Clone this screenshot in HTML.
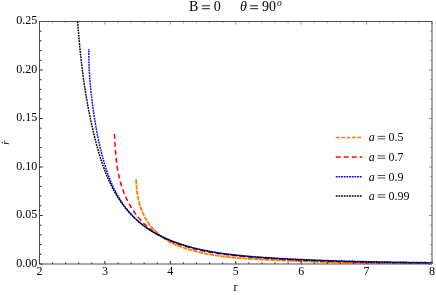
<!DOCTYPE html>
<html><head><meta charset="utf-8"><style>
html,body{margin:0;padding:0;background:#fff;}
svg{display:block;will-change:transform;}
text{font-family:"Liberation Serif",serif;font-size:12px;fill:#000;}
.tk{stroke:#222;stroke-width:1;}
.tk2{stroke:#999;stroke-width:1;}
.ax{stroke:#4a4a4a;stroke-width:1;fill:none;}
.c{fill:none;stroke-width:1.5;}
.i{font-style:italic;}
.t{font-size:14px;}
</style></head><body>
<svg width="436" height="295" viewBox="0 0 436 295">
<rect width="436" height="295" fill="#fff"/>
<defs><clipPath id="cp"><rect x="39.5" y="21.5" width="392.5" height="242.5"/></clipPath></defs>
<g clip-path="url(#cp)">
<path class="c" style="stroke-width:1.8" stroke="#ff8000" stroke-dasharray="4.7 0.85" d="M136.16 179.23 L136.17 180.21 L136.20 181.20 L136.23 182.19 L136.27 183.18 L136.32 184.17 L136.38 185.17 L136.45 186.16 L136.53 187.16 L136.63 188.16 L136.73 189.15 L136.84 190.15 L136.96 191.14 L137.09 192.14 L137.23 193.13 L137.38 194.12 L137.55 195.11 L137.72 196.10 L137.91 197.09 L138.11 198.08 L138.32 199.06 L138.54 200.04 L138.77 201.01 L139.02 201.99 L139.27 202.95 L139.54 203.92 L139.83 204.88 L140.12 205.84 L140.43 206.79 L140.75 207.74 L141.08 208.68 L141.43 209.61 L141.79 210.54 L142.16 211.47 L142.55 212.39 L142.95 213.30 L143.36 214.20 L143.79 215.10 L144.24 215.99 L144.69 216.87 L145.17 217.75 L145.65 218.61 L146.16 219.47 L146.67 220.32 L147.20 221.16 L147.75 221.99 L148.31 222.82 L148.89 223.63 L149.48 224.43 L150.08 225.23 L150.70 226.01 L151.33 226.78 L151.97 227.55 L152.63 228.30 L153.30 229.04 L153.98 229.77 L154.67 230.49 L155.38 231.20 L156.09 231.90 L156.82 232.59 L157.56 233.26 L158.31 233.93 L159.07 234.58 L159.84 235.22 L160.62 235.84 L161.41 236.46 L162.21 237.06 L163.02 237.65 L163.84 238.22 L164.67 238.79 L165.51 239.34 L166.35 239.87 L167.21 240.39 L168.07 240.90 L168.94 241.40 L169.81 241.88 L170.70 242.35 L171.59 242.80 L172.48 243.25 L173.39 243.68 L174.30 244.10 L175.21 244.51 L176.13 244.91 L177.05 245.30 L177.98 245.67 L178.91 246.04 L179.85 246.40 L180.79 246.75 L181.73 247.10 L182.68 247.43 L183.63 247.76 L184.58 248.08 L185.54 248.39 L186.49 248.70 L187.45 249.00 L188.41 249.29 L189.36 249.58 L190.32 249.86 L191.29 250.14 L192.25 250.41 L193.21 250.67 L194.18 250.93 L195.14 251.19 L196.11 251.43 L197.08 251.68 L198.05 251.92 L199.02 252.15 L199.99 252.38 L200.96 252.60 L201.93 252.82 L202.90 253.03 L203.88 253.24 L204.85 253.44 L205.83 253.64 L206.81 253.84 L207.78 254.03 L208.76 254.21 L209.74 254.39 L210.72 254.57 L211.70 254.74 L212.68 254.91 L213.67 255.08 L214.65 255.24 L215.63 255.39 L216.62 255.54 L217.61 255.69 L218.59 255.84 L219.58 255.98 L220.57 256.12 L221.55 256.25 L222.54 256.38 L223.53 256.51 L224.52 256.63 L225.51 256.75 L226.50 256.87 L227.49 256.98 L228.49 257.09 L229.48 257.20 L230.47 257.31 L231.47 257.41 L232.46 257.51 L233.45 257.60 L234.45 257.70 L235.45 257.79 L236.44 257.88 L237.44 257.97 L238.43 258.05 L239.43 258.13 L240.43 258.21 L241.43 258.29 L242.42 258.36 L243.42 258.44 L244.42 258.51 L245.42 258.58 L246.42 258.65 L247.42 258.71 L248.42 258.78 L249.42 258.84 L250.42 258.90 L251.42 258.96 L252.42 259.02 L253.42 259.08 L254.42 259.13 L255.42 259.19 L256.42 259.24 L257.42 259.29 L258.42 259.34 L259.43 259.39 L260.43 259.44 L261.43 259.49 L262.43 259.54 L263.43 259.59 L264.43 259.64 L265.43 259.68 L266.44 259.73 L267.44 259.77 L268.44 259.82 L269.44 259.86 L270.44 259.91 L271.44 259.95 L272.44 260.00 L273.44 260.04 L274.44 260.09 L275.44 260.13 L276.45 260.18 L277.45 260.22 L278.45 260.26 L279.45 260.31 L280.45 260.35 L281.45 260.39 L282.45 260.43 L283.45 260.48 L284.45 260.52 L285.45 260.56 L286.45 260.60 L287.45 260.64 L288.45 260.68 L289.45 260.72 L290.45 260.76 L291.45 260.80 L292.45 260.84 L293.45 260.88 L294.45 260.92 L295.45 260.96 L296.45 261.00 L297.45 261.04 L298.45 261.08 L299.45 261.12 L300.44 261.15 L301.44 261.19 L302.44 261.23 L303.44 261.27 L304.44 261.30 L305.44 261.34 L306.44 261.38 L307.44 261.41 L308.44 261.45 L309.44 261.48 L310.44 261.52 L311.44 261.55 L312.43 261.59 L313.43 261.62 L314.43 261.66 L315.43 261.69 L316.43 261.73 L317.43 261.76 L318.43 261.79 L319.43 261.83 L320.43 261.86 L321.42 261.89 L322.42 261.92 L323.42 261.95 L324.42 261.99 L325.42 262.02 L326.42 262.05 L327.42 262.08 L328.42 262.11 L329.41 262.14 L330.41 262.17 L331.41 262.20 L332.41 262.23 L333.41 262.26 L334.41 262.28 L335.41 262.31 L336.40 262.34 L337.40 262.37 L338.40 262.40 L339.40 262.42 L340.40 262.45 L341.40 262.48 L342.40 262.50 L343.39 262.53 L344.39 262.55 L345.39 262.58 L346.39 262.60 L347.39 262.63 L348.39 262.65 L349.39 262.68 L350.39 262.70 L351.38 262.72 L352.38 262.75 L353.38 262.77 L354.38 262.79 L355.38 262.81 L356.38 262.84 L357.38 262.86 L358.38 262.88 L359.37 262.90 L360.37 262.92 L361.37 262.94 L362.37 262.96 L363.37 262.98 L364.37 263.00 L365.37 263.02 L366.37 263.04 L367.37 263.05 L368.37 263.07 L369.37 263.09 L370.36 263.11 L371.36 263.12 L372.36 263.14 L373.36 263.15 L374.36 263.17 L375.36 263.19 L376.36 263.20 L377.36 263.22 L378.36 263.23 L379.36 263.24 L380.36 263.26 L381.36 263.27 L382.36 263.28 L383.36 263.30 L384.36 263.31 L385.36 263.32 L386.36 263.33 L387.36 263.34 L388.36 263.35 L389.36 263.36 L390.36 263.37 L391.36 263.38 L392.36 263.39 L393.36 263.40 L394.36 263.41 L395.36 263.42 L396.36 263.43 L397.36 263.43 L398.36 263.44 L399.36 263.45 L400.36 263.45 L401.36 263.46 L402.36 263.46 L403.37 263.47 L404.37 263.47 L405.37 263.48 L406.37 263.48 L407.37 263.49 L408.37 263.49 L409.37 263.49 L410.38 263.49 L411.38 263.50 L412.38 263.50 L413.38 263.50 L414.38 263.50 L415.38 263.50 L416.39 263.50 L417.39 263.50 L418.39 263.50 L419.39 263.50 L420.40 263.50 L421.40 263.50 L422.40 263.49 L423.40 263.49 L424.41 263.49 L425.41 263.48 L426.41 263.48 L427.41 263.48 L428.42 263.47 L429.42 263.47 L430.42 263.46 L431.38 263.45"/>
<path class="c" stroke="#ff0000" stroke-dasharray="4.8 3.2" d="M114.43 134.03 L114.49 135.02 L114.54 136.01 L114.59 137.01 L114.65 138.00 L114.70 139.00 L114.76 139.99 L114.81 140.99 L114.87 141.98 L114.93 142.98 L114.98 143.98 L115.05 144.97 L115.11 145.97 L115.17 146.97 L115.24 147.97 L115.31 148.96 L115.38 149.96 L115.45 150.96 L115.53 151.95 L115.61 152.95 L115.69 153.95 L115.78 154.94 L115.87 155.94 L115.97 156.94 L116.07 157.93 L116.17 158.92 L116.28 159.92 L116.39 160.91 L116.51 161.90 L116.63 162.90 L116.76 163.89 L116.89 164.88 L117.03 165.87 L117.18 166.85 L117.33 167.84 L117.49 168.83 L117.66 169.81 L117.83 170.80 L118.01 171.78 L118.19 172.76 L118.39 173.74 L118.59 174.72 L118.80 175.69 L119.01 176.67 L119.24 177.64 L119.47 178.62 L119.72 179.59 L119.97 180.55 L120.23 181.52 L120.50 182.49 L120.78 183.45 L121.07 184.41 L121.36 185.37 L121.67 186.32 L121.99 187.28 L122.31 188.23 L122.64 189.17 L122.99 190.12 L123.34 191.06 L123.70 192.00 L124.07 192.93 L124.45 193.86 L124.84 194.79 L125.23 195.71 L125.64 196.63 L126.06 197.55 L126.48 198.46 L126.91 199.36 L127.36 200.26 L127.81 201.16 L128.27 202.05 L128.74 202.93 L129.22 203.81 L129.70 204.69 L130.20 205.56 L130.71 206.42 L131.22 207.28 L131.74 208.13 L132.28 208.98 L132.82 209.82 L133.37 210.65 L133.93 211.48 L134.50 212.30 L135.07 213.11 L135.66 213.92 L136.26 214.71 L136.86 215.51 L137.47 216.29 L138.09 217.07 L138.73 217.83 L139.37 218.59 L140.01 219.35 L140.67 220.09 L141.34 220.83 L142.01 221.55 L142.70 222.27 L143.39 222.98 L144.09 223.68 L144.80 224.37 L145.52 225.06 L146.25 225.73 L146.99 226.39 L147.73 227.05 L148.49 227.69 L149.25 228.33 L150.03 228.95 L150.81 229.56 L151.60 230.17 L152.39 230.76 L153.20 231.35 L154.01 231.92 L154.83 232.48 L155.66 233.04 L156.50 233.58 L157.34 234.12 L158.19 234.65 L159.04 235.16 L159.90 235.67 L160.77 236.17 L161.64 236.65 L162.52 237.13 L163.40 237.60 L164.29 238.06 L165.19 238.51 L166.08 238.96 L166.99 239.39 L167.89 239.82 L168.81 240.23 L169.72 240.64 L170.64 241.04 L171.56 241.44 L172.49 241.83 L173.42 242.20 L174.35 242.58 L175.28 242.94 L176.22 243.30 L177.16 243.65 L178.10 244.00 L179.05 244.33 L179.99 244.67 L180.94 244.99 L181.89 245.31 L182.85 245.62 L183.80 245.93 L184.76 246.23 L185.72 246.53 L186.68 246.81 L187.64 247.10 L188.61 247.37 L189.57 247.65 L190.54 247.91 L191.51 248.17 L192.48 248.43 L193.45 248.68 L194.42 248.93 L195.39 249.17 L196.36 249.40 L197.34 249.63 L198.31 249.86 L199.29 250.08 L200.27 250.30 L201.24 250.51 L202.22 250.72 L203.20 250.92 L204.18 251.12 L205.16 251.31 L206.14 251.51 L207.12 251.69 L208.11 251.88 L209.09 252.06 L210.07 252.23 L211.06 252.40 L212.04 252.57 L213.03 252.73 L214.01 252.90 L215.00 253.05 L215.99 253.21 L216.97 253.36 L217.96 253.51 L218.95 253.65 L219.94 253.79 L220.93 253.93 L221.92 254.07 L222.91 254.20 L223.90 254.33 L224.89 254.46 L225.88 254.59 L226.87 254.71 L227.86 254.83 L228.86 254.95 L229.85 255.06 L230.84 255.18 L231.83 255.29 L232.83 255.40 L233.82 255.51 L234.82 255.62 L235.81 255.72 L236.80 255.82 L237.80 255.92 L238.79 256.02 L239.79 256.12 L240.78 256.22 L241.78 256.31 L242.77 256.41 L243.77 256.50 L244.76 256.60 L245.76 256.69 L246.76 256.78 L247.75 256.87 L248.75 256.95 L249.74 257.04 L250.74 257.13 L251.73 257.21 L252.73 257.30 L253.73 257.38 L254.72 257.46 L255.72 257.55 L256.72 257.63 L257.71 257.71 L258.71 257.78 L259.71 257.86 L260.70 257.94 L261.70 258.01 L262.70 258.09 L263.69 258.16 L264.69 258.24 L265.69 258.31 L266.68 258.38 L267.68 258.45 L268.68 258.52 L269.68 258.59 L270.67 258.66 L271.67 258.73 L272.67 258.79 L273.67 258.86 L274.66 258.92 L275.66 258.99 L276.66 259.05 L277.66 259.11 L278.65 259.17 L279.65 259.23 L280.65 259.29 L281.65 259.35 L282.65 259.41 L283.64 259.47 L284.64 259.53 L285.64 259.58 L286.64 259.64 L287.64 259.69 L288.64 259.75 L289.63 259.80 L290.63 259.85 L291.63 259.90 L292.63 259.95 L293.63 260.00 L294.63 260.05 L295.63 260.10 L296.62 260.15 L297.62 260.20 L298.62 260.25 L299.62 260.29 L300.62 260.34 L301.62 260.38 L302.62 260.43 L303.62 260.47 L304.62 260.52 L305.61 260.56 L306.61 260.60 L307.61 260.64 L308.61 260.68 L309.61 260.72 L310.61 260.76 L311.61 260.80 L312.61 260.84 L313.61 260.88 L314.61 260.92 L315.61 260.95 L316.61 260.99 L317.61 261.02 L318.61 261.06 L319.61 261.09 L320.61 261.13 L321.61 261.16 L322.61 261.20 L323.60 261.23 L324.60 261.26 L325.60 261.29 L326.60 261.32 L327.60 261.35 L328.60 261.39 L329.60 261.42 L330.60 261.44 L331.60 261.47 L332.60 261.50 L333.60 261.53 L334.60 261.56 L335.60 261.59 L336.60 261.61 L337.60 261.64 L338.60 261.67 L339.60 261.69 L340.60 261.72 L341.60 261.74 L342.60 261.77 L343.60 261.79 L344.60 261.82 L345.60 261.84 L346.60 261.86 L347.60 261.89 L348.60 261.91 L349.60 261.93 L350.60 261.95 L351.60 261.98 L352.60 262.00 L353.60 262.02 L354.60 262.04 L355.60 262.06 L356.60 262.08 L357.60 262.10 L358.61 262.12 L359.61 262.14 L360.61 262.16 L361.61 262.18 L362.61 262.20 L363.61 262.22 L364.61 262.24 L365.61 262.26 L366.61 262.27 L367.61 262.29 L368.61 262.31 L369.61 262.33 L370.61 262.35 L371.61 262.36 L372.61 262.38 L373.61 262.40 L374.61 262.41 L375.61 262.43 L376.61 262.45 L377.61 262.46 L378.61 262.48 L379.61 262.50 L380.61 262.51 L381.61 262.53 L382.61 262.55 L383.61 262.56 L384.61 262.58 L385.61 262.59 L386.61 262.61 L387.61 262.63 L388.61 262.64 L389.61 262.66 L390.61 262.67 L391.61 262.69 L392.61 262.70 L393.61 262.72 L394.60 262.74 L395.60 262.75 L396.60 262.77 L397.60 262.78 L398.60 262.80 L399.60 262.81 L400.60 262.83 L401.60 262.85 L402.60 262.86 L403.60 262.88 L404.60 262.89 L405.60 262.91 L406.60 262.92 L407.60 262.94 L408.60 262.96 L409.60 262.97 L410.60 262.99 L411.60 263.01 L412.59 263.02 L413.59 263.04 L414.59 263.06 L415.59 263.07 L416.59 263.09 L417.59 263.11 L418.59 263.13 L419.59 263.14 L420.59 263.16 L421.58 263.18 L422.58 263.20 L423.58 263.22 L424.58 263.24 L425.58 263.26 L426.58 263.27 L427.58 263.29 L428.57 263.31 L429.57 263.33 L430.57 263.35 L431.57 263.37 L431.91 263.38"/>
<path class="c" stroke="#0000ff" stroke-dasharray="1.8 0.9" stroke-dashoffset="1.16" d="M88.87 49.08 L88.86 50.08 L88.85 51.09 L88.84 52.09 L88.83 53.09 L88.83 54.10 L88.84 55.10 L88.84 56.10 L88.85 57.11 L88.86 58.11 L88.88 59.11 L88.90 60.11 L88.92 61.11 L88.95 62.12 L88.98 63.12 L89.01 64.12 L89.04 65.12 L89.08 66.12 L89.12 67.12 L89.17 68.11 L89.21 69.11 L89.26 70.11 L89.32 71.11 L89.37 72.11 L89.43 73.11 L89.49 74.10 L89.56 75.10 L89.62 76.10 L89.69 77.09 L89.77 78.09 L89.84 79.09 L89.92 80.08 L90.00 81.08 L90.08 82.07 L90.17 83.07 L90.25 84.06 L90.34 85.06 L90.43 86.05 L90.53 87.05 L90.63 88.04 L90.72 89.04 L90.83 90.03 L90.93 91.02 L91.03 92.02 L91.14 93.01 L91.25 94.00 L91.36 94.99 L91.48 95.99 L91.59 96.98 L91.71 97.97 L91.83 98.96 L91.95 99.95 L92.07 100.95 L92.20 101.94 L92.32 102.93 L92.45 103.92 L92.58 104.91 L92.71 105.90 L92.85 106.89 L92.98 107.88 L93.12 108.87 L93.26 109.86 L93.39 110.85 L93.54 111.84 L93.68 112.83 L93.82 113.82 L93.97 114.81 L94.12 115.80 L94.27 116.78 L94.42 117.77 L94.58 118.76 L94.73 119.75 L94.89 120.73 L95.05 121.72 L95.21 122.71 L95.38 123.69 L95.55 124.68 L95.72 125.66 L95.89 126.65 L96.06 127.63 L96.24 128.62 L96.42 129.60 L96.60 130.58 L96.78 131.57 L96.97 132.55 L97.16 133.53 L97.35 134.51 L97.54 135.49 L97.74 136.47 L97.94 137.45 L98.14 138.43 L98.35 139.41 L98.55 140.39 L98.76 141.37 L98.98 142.34 L99.19 143.32 L99.41 144.29 L99.64 145.27 L99.86 146.24 L100.09 147.22 L100.32 148.19 L100.56 149.16 L100.80 150.14 L101.04 151.11 L101.28 152.08 L101.53 153.05 L101.78 154.02 L102.04 154.99 L102.30 155.95 L102.56 156.92 L102.82 157.89 L103.09 158.85 L103.36 159.82 L103.64 160.78 L103.92 161.74 L104.20 162.70 L104.49 163.66 L104.78 164.63 L105.08 165.58 L105.38 166.54 L105.68 167.50 L105.99 168.46 L106.30 169.41 L106.62 170.36 L106.94 171.32 L107.27 172.27 L107.60 173.21 L107.93 174.16 L108.27 175.10 L108.62 176.05 L108.97 176.99 L109.33 177.92 L109.70 178.86 L110.07 179.79 L110.44 180.72 L110.82 181.65 L111.21 182.57 L111.61 183.50 L112.01 184.41 L112.42 185.33 L112.83 186.24 L113.25 187.15 L113.68 188.05 L114.12 188.96 L114.56 189.85 L115.01 190.75 L115.47 191.64 L115.94 192.52 L116.41 193.41 L116.90 194.28 L117.39 195.16 L117.89 196.02 L118.39 196.89 L118.91 197.75 L119.43 198.60 L119.96 199.45 L120.50 200.30 L121.04 201.14 L121.60 201.97 L122.16 202.80 L122.73 203.62 L123.30 204.44 L123.89 205.25 L124.48 206.06 L125.08 206.86 L125.68 207.65 L126.30 208.44 L126.92 209.22 L127.54 209.99 L128.18 210.76 L128.82 211.52 L129.47 212.28 L130.13 213.03 L130.80 213.77 L131.47 214.50 L132.15 215.23 L132.83 215.95 L133.52 216.66 L134.22 217.36 L134.93 218.06 L135.64 218.75 L136.36 219.43 L137.09 220.10 L137.82 220.76 L138.56 221.42 L139.31 222.07 L140.07 222.71 L140.83 223.34 L141.59 223.96 L142.37 224.57 L143.15 225.18 L143.93 225.78 L144.72 226.37 L145.52 226.95 L146.33 227.52 L147.13 228.09 L147.95 228.64 L148.77 229.19 L149.60 229.74 L150.43 230.27 L151.27 230.80 L152.11 231.32 L152.96 231.83 L153.81 232.33 L154.67 232.83 L155.53 233.32 L156.40 233.80 L157.27 234.28 L158.15 234.75 L159.03 235.21 L159.91 235.66 L160.80 236.11 L161.70 236.55 L162.59 236.99 L163.50 237.41 L164.40 237.83 L165.31 238.25 L166.22 238.66 L167.14 239.06 L168.06 239.45 L168.99 239.84 L169.91 240.22 L170.85 240.60 L171.78 240.97 L172.72 241.33 L173.66 241.69 L174.60 242.04 L175.54 242.39 L176.49 242.73 L177.44 243.07 L178.40 243.39 L179.35 243.72 L180.31 244.04 L181.27 244.35 L182.23 244.66 L183.20 244.96 L184.17 245.26 L185.13 245.55 L186.10 245.83 L187.08 246.12 L188.05 246.39 L189.02 246.66 L190.00 246.93 L190.98 247.19 L191.96 247.45 L192.94 247.70 L193.92 247.95 L194.90 248.19 L195.88 248.43 L196.86 248.67 L197.85 248.90 L198.83 249.12 L199.82 249.34 L200.80 249.56 L201.79 249.77 L202.77 249.98 L203.76 250.19 L204.74 250.39 L205.73 250.59 L206.71 250.78 L207.70 250.97 L208.68 251.16 L209.67 251.34 L210.66 251.52 L211.64 251.70 L212.63 251.87 L213.61 252.04 L214.60 252.21 L215.59 252.37 L216.57 252.53 L217.56 252.68 L218.55 252.84 L219.53 252.99 L220.52 253.13 L221.51 253.28 L222.50 253.42 L223.48 253.56 L224.47 253.69 L225.46 253.82 L226.45 253.95 L227.43 254.08 L228.42 254.21 L229.41 254.33 L230.40 254.45 L231.39 254.56 L232.38 254.68 L233.37 254.79 L234.36 254.90 L235.34 255.01 L236.33 255.12 L237.32 255.22 L238.31 255.32 L239.30 255.42 L240.29 255.52 L241.28 255.62 L242.28 255.71 L243.27 255.80 L244.26 255.89 L245.25 255.98 L246.24 256.07 L247.23 256.16 L248.22 256.24 L249.22 256.33 L250.21 256.41 L251.20 256.49 L252.19 256.57 L253.19 256.65 L254.18 256.72 L255.17 256.80 L256.17 256.88 L257.16 256.95 L258.16 257.02 L259.15 257.09 L260.15 257.17 L261.14 257.24 L262.14 257.31 L263.13 257.38 L264.13 257.44 L265.12 257.51 L266.12 257.58 L267.12 257.65 L268.11 257.71 L269.11 257.78 L270.11 257.84 L271.11 257.90 L272.10 257.97 L273.10 258.03 L274.10 258.09 L275.10 258.15 L276.10 258.21 L277.09 258.27 L278.09 258.33 L279.09 258.39 L280.09 258.45 L281.09 258.50 L282.09 258.56 L283.09 258.62 L284.09 258.67 L285.09 258.73 L286.09 258.78 L287.09 258.83 L288.09 258.89 L289.09 258.94 L290.09 258.99 L291.09 259.04 L292.09 259.09 L293.09 259.14 L294.09 259.19 L295.09 259.24 L296.09 259.29 L297.09 259.34 L298.09 259.38 L299.10 259.43 L300.10 259.48 L301.10 259.52 L302.10 259.57 L303.10 259.61 L304.10 259.66 L305.10 259.70 L306.10 259.74 L307.10 259.79 L308.10 259.83 L309.11 259.87 L310.11 259.91 L311.11 259.95 L312.11 259.99 L313.11 260.03 L314.11 260.07 L315.11 260.11 L316.11 260.15 L317.11 260.19 L318.11 260.23 L319.11 260.27 L320.11 260.30 L321.11 260.34 L322.11 260.38 L323.11 260.41 L324.11 260.45 L325.11 260.48 L326.11 260.52 L327.11 260.55 L328.11 260.59 L329.11 260.62 L330.11 260.66 L331.11 260.69 L332.11 260.72 L333.11 260.75 L334.11 260.79 L335.11 260.82 L336.11 260.85 L337.11 260.88 L338.11 260.91 L339.11 260.94 L340.11 260.97 L341.11 261.00 L342.11 261.03 L343.11 261.06 L344.11 261.09 L345.10 261.12 L346.10 261.14 L347.10 261.17 L348.10 261.20 L349.10 261.23 L350.10 261.25 L351.10 261.28 L352.10 261.30 L353.10 261.33 L354.10 261.36 L355.10 261.38 L356.09 261.41 L357.09 261.43 L358.09 261.46 L359.09 261.48 L360.09 261.50 L361.09 261.53 L362.09 261.55 L363.09 261.57 L364.08 261.60 L365.08 261.62 L366.08 261.64 L367.08 261.66 L368.08 261.68 L369.08 261.71 L370.08 261.73 L371.08 261.75 L372.08 261.77 L373.07 261.79 L374.07 261.81 L375.07 261.83 L376.07 261.85 L377.07 261.87 L378.07 261.89 L379.07 261.91 L380.07 261.93 L381.07 261.94 L382.07 261.96 L383.07 261.98 L384.06 262.00 L385.06 262.02 L386.06 262.04 L387.06 262.05 L388.06 262.07 L389.06 262.09 L390.06 262.10 L391.06 262.12 L392.06 262.14 L393.06 262.15 L394.06 262.17 L395.06 262.19 L396.06 262.20 L397.06 262.22 L398.06 262.23 L399.06 262.25 L400.06 262.26 L401.06 262.28 L402.06 262.29 L403.06 262.31 L404.06 262.32 L405.06 262.34 L406.06 262.35 L407.06 262.37 L408.06 262.38 L409.06 262.39 L410.06 262.41 L411.06 262.42 L412.06 262.44 L413.06 262.45 L414.06 262.46 L415.07 262.48 L416.07 262.49 L417.07 262.50 L418.07 262.52 L419.07 262.53 L420.07 262.54 L421.07 262.55 L422.07 262.57 L423.08 262.58 L424.08 262.59 L425.08 262.60 L426.08 262.62 L427.08 262.63 L428.09 262.64 L429.09 262.65 L430.09 262.67 L431.09 262.68 L431.52 262.68"/>
<path class="c" stroke="#000" stroke-dasharray="1.8 0.9" d="M77.61 21.41 L77.68 22.46 L77.76 23.51 L77.84 24.56 L77.93 25.60 L78.01 26.65 L78.09 27.69 L78.17 28.74 L78.26 29.78 L78.34 30.82 L78.43 31.86 L78.51 32.90 L78.60 33.94 L78.69 34.98 L78.78 36.01 L78.87 37.05 L78.96 38.08 L79.05 39.12 L79.15 40.15 L79.24 41.18 L79.33 42.21 L79.43 43.24 L79.53 44.27 L79.63 45.30 L79.72 46.33 L79.82 47.35 L79.93 48.38 L80.03 49.40 L80.13 50.43 L80.24 51.45 L80.34 52.47 L80.45 53.50 L80.56 54.52 L80.66 55.54 L80.77 56.56 L80.89 57.58 L81.00 58.60 L81.11 59.62 L81.23 60.63 L81.34 61.65 L81.46 62.67 L81.58 63.68 L81.70 64.70 L81.82 65.71 L81.94 66.73 L82.07 67.74 L82.19 68.75 L82.32 69.77 L82.45 70.78 L82.58 71.79 L82.71 72.80 L82.84 73.81 L82.97 74.82 L83.11 75.83 L83.25 76.84 L83.38 77.85 L83.52 78.86 L83.67 79.87 L83.81 80.88 L83.95 81.89 L84.10 82.89 L84.25 83.90 L84.39 84.91 L84.54 85.91 L84.70 86.92 L84.85 87.93 L85.01 88.93 L85.16 89.94 L85.32 90.95 L85.48 91.95 L85.64 92.96 L85.81 93.96 L85.97 94.97 L86.14 95.97 L86.31 96.98 L86.48 97.98 L86.65 98.99 L86.83 99.99 L87.00 101.00 L87.18 102.00 L87.36 103.01 L87.54 104.01 L87.72 105.02 L87.91 106.02 L88.10 107.02 L88.29 108.03 L88.48 109.03 L88.67 110.04 L88.86 111.05 L89.06 112.05 L89.26 113.06 L89.46 114.06 L89.66 115.07 L89.87 116.07 L90.07 117.08 L90.28 118.09 L90.49 119.09 L90.71 120.10 L90.92 121.11 L91.14 122.11 L91.36 123.12 L91.58 124.13 L91.80 125.14 L92.03 126.15 L92.26 127.16 L92.49 128.16 L92.72 129.17 L92.95 130.18 L93.19 131.19 L93.43 132.21 L93.67 133.22 L93.91 134.23 L94.16 135.24 L94.41 136.25 L94.66 137.27 L94.91 138.28 L95.17 139.29 L95.42 140.31 L95.68 141.32 L95.95 142.33 L96.21 143.35 L96.48 144.36 L96.76 145.37 L97.03 146.38 L97.31 147.40 L97.59 148.41 L97.88 149.42 L98.16 150.43 L98.45 151.44 L98.75 152.44 L99.05 153.45 L99.35 154.46 L99.66 155.46 L99.96 156.46 L100.28 157.47 L100.59 158.47 L100.92 159.47 L101.24 160.46 L101.57 161.46 L101.90 162.45 L102.24 163.45 L102.58 164.44 L102.93 165.42 L103.28 166.41 L103.63 167.39 L103.99 168.37 L104.36 169.35 L104.73 170.33 L105.10 171.30 L105.48 172.28 L105.86 173.24 L106.25 174.21 L106.64 175.17 L107.04 176.13 L107.45 177.09 L107.86 178.04 L108.27 178.99 L108.69 179.94 L109.12 180.88 L109.55 181.82 L109.98 182.76 L110.43 183.69 L110.87 184.62 L111.33 185.55 L111.79 186.47 L112.25 187.39 L112.73 188.30 L113.20 189.21 L113.69 190.12 L114.18 191.02 L114.68 191.91 L115.18 192.81 L115.69 193.69 L116.21 194.58 L116.73 195.45 L117.26 196.33 L117.80 197.19 L118.34 198.06 L118.89 198.92 L119.45 199.77 L120.01 200.62 L120.58 201.46 L121.16 202.29 L121.75 203.13 L122.34 203.95 L122.94 204.77 L123.55 205.58 L124.16 206.39 L124.79 207.19 L125.42 207.99 L126.06 208.78 L126.70 209.56 L127.36 210.34 L128.02 211.11 L128.69 211.88 L129.37 212.64 L130.05 213.39 L130.75 214.13 L131.45 214.87 L132.16 215.60 L132.87 216.33 L133.59 217.04 L134.33 217.75 L135.06 218.46 L135.81 219.15 L136.56 219.84 L137.32 220.52 L138.09 221.20 L138.86 221.86 L139.64 222.52 L140.43 223.17 L141.22 223.81 L142.02 224.45 L142.83 225.08 L143.64 225.69 L144.46 226.31 L145.29 226.91 L146.12 227.50 L146.96 228.09 L147.81 228.67 L148.66 229.24 L149.52 229.80 L150.38 230.35 L151.25 230.89 L152.12 231.43 L153.01 231.95 L153.89 232.47 L154.78 232.98 L155.68 233.49 L156.58 233.98 L157.49 234.47 L158.40 234.95 L159.31 235.42 L160.23 235.88 L161.16 236.34 L162.08 236.79 L163.01 237.23 L163.95 237.67 L164.89 238.10 L165.83 238.52 L166.77 238.93 L167.72 239.34 L168.67 239.74 L169.62 240.14 L170.58 240.53 L171.54 240.91 L172.50 241.28 L173.46 241.65 L174.43 242.02 L175.39 242.38 L176.36 242.73 L177.33 243.08 L178.30 243.42 L179.27 243.75 L180.25 244.08 L181.22 244.40 L182.20 244.72 L183.18 245.04 L184.16 245.34 L185.14 245.65 L186.12 245.94 L187.11 246.24 L188.09 246.52 L189.08 246.81 L190.07 247.08 L191.06 247.35 L192.05 247.62 L193.04 247.88 L194.04 248.14 L195.03 248.39 L196.03 248.64 L197.03 248.89 L198.02 249.13 L199.02 249.36 L200.03 249.59 L201.03 249.82 L202.03 250.04 L203.04 250.25 L204.04 250.47 L205.05 250.68 L206.06 250.88 L207.06 251.08 L208.07 251.28 L209.09 251.47 L210.10 251.66 L211.11 251.85 L212.12 252.03 L213.14 252.21 L214.15 252.38 L215.17 252.55 L216.19 252.72 L217.20 252.88 L218.22 253.04 L219.24 253.20 L220.26 253.36 L221.28 253.51 L222.30 253.65 L223.32 253.80 L224.35 253.94 L225.37 254.08 L226.39 254.21 L227.42 254.35 L228.44 254.48 L229.47 254.60 L230.50 254.73 L231.52 254.85 L232.55 254.97 L233.58 255.09 L234.61 255.20 L235.63 255.31 L236.66 255.42 L237.69 255.53 L238.72 255.64 L239.75 255.74 L240.78 255.84 L241.81 255.94 L242.84 256.04 L243.88 256.13 L244.91 256.23 L245.94 256.32 L246.97 256.41 L248.00 256.49 L249.03 256.58 L250.07 256.67 L251.10 256.75 L252.13 256.83 L253.16 256.91 L254.20 256.99 L255.23 257.07 L256.26 257.15 L257.30 257.22 L258.33 257.30 L259.36 257.37 L260.39 257.44 L261.43 257.51 L262.46 257.58 L263.49 257.65 L264.52 257.72 L265.55 257.79 L266.59 257.86 L267.62 257.92 L268.65 257.99 L269.68 258.06 L270.71 258.12 L271.74 258.19 L272.77 258.25 L273.80 258.31 L274.83 258.37 L275.86 258.44 L276.89 258.50 L277.92 258.56 L278.95 258.62 L279.98 258.68 L281.01 258.74 L282.04 258.79 L283.07 258.85 L284.10 258.91 L285.13 258.97 L286.15 259.02 L287.18 259.08 L288.21 259.13 L289.24 259.18 L290.27 259.24 L291.29 259.29 L292.32 259.34 L293.35 259.40 L294.38 259.45 L295.41 259.50 L296.43 259.55 L297.46 259.60 L298.49 259.65 L299.51 259.69 L300.54 259.74 L301.57 259.79 L302.60 259.84 L303.62 259.88 L304.65 259.93 L305.67 259.97 L306.70 260.02 L307.73 260.06 L308.75 260.11 L309.78 260.15 L310.81 260.19 L311.83 260.24 L312.86 260.28 L313.89 260.32 L314.91 260.36 L315.94 260.40 L316.96 260.44 L317.99 260.48 L319.01 260.52 L320.04 260.56 L321.07 260.60 L322.09 260.63 L323.12 260.67 L324.14 260.71 L325.17 260.74 L326.19 260.78 L327.22 260.82 L328.25 260.85 L329.27 260.89 L330.30 260.92 L331.32 260.95 L332.35 260.99 L333.37 261.02 L334.40 261.05 L335.42 261.09 L336.45 261.12 L337.48 261.15 L338.50 261.18 L339.53 261.21 L340.55 261.24 L341.58 261.27 L342.60 261.30 L343.63 261.33 L344.65 261.36 L345.68 261.39 L346.71 261.42 L347.73 261.45 L348.76 261.47 L349.78 261.50 L350.81 261.53 L351.84 261.55 L352.86 261.58 L353.89 261.61 L354.91 261.63 L355.94 261.66 L356.97 261.68 L357.99 261.71 L359.02 261.73 L360.05 261.76 L361.07 261.78 L362.10 261.80 L363.13 261.83 L364.15 261.85 L365.18 261.87 L366.21 261.89 L367.23 261.92 L368.26 261.94 L369.29 261.96 L370.32 261.98 L371.34 262.00 L372.37 262.02 L373.40 262.04 L374.43 262.06 L375.45 262.08 L376.48 262.10 L377.51 262.12 L378.54 262.14 L379.57 262.16 L380.60 262.18 L381.62 262.20 L382.65 262.22 L383.68 262.24 L384.71 262.26 L385.74 262.27 L386.77 262.29 L387.80 262.31 L388.83 262.33 L389.86 262.34 L390.89 262.36 L391.92 262.38 L392.95 262.40 L393.98 262.41 L395.01 262.43 L396.04 262.45 L397.07 262.46 L398.10 262.48 L399.14 262.49 L400.17 262.51 L401.20 262.53 L402.23 262.54 L403.26 262.56 L404.30 262.57 L405.33 262.59 L406.36 262.60 L407.40 262.62 L408.43 262.63 L409.46 262.65 L410.50 262.66 L411.53 262.68 L412.56 262.69 L413.60 262.70 L414.63 262.72 L415.67 262.73 L416.70 262.75 L417.74 262.76 L418.77 262.78 L419.81 262.79 L420.85 262.80 L421.88 262.82 L422.92 262.83 L423.95 262.84 L424.99 262.86 L426.03 262.87 L427.07 262.89 L428.10 262.90 L429.14 262.91 L430.18 262.93 L431.22 262.94"/>
</g>
<line x1="39.50" y1="264.0" x2="39.50" y2="261.0" class="tk"/><line x1="39.50" y1="21.5" x2="39.50" y2="24.5" class="tk2"/><line x1="52.58" y1="264.0" x2="52.58" y2="262.4" class="tk"/><line x1="52.58" y1="21.5" x2="52.58" y2="23.1" class="tk2"/><line x1="65.67" y1="264.0" x2="65.67" y2="262.4" class="tk"/><line x1="65.67" y1="21.5" x2="65.67" y2="23.1" class="tk2"/><line x1="78.75" y1="264.0" x2="78.75" y2="262.4" class="tk"/><line x1="78.75" y1="21.5" x2="78.75" y2="23.1" class="tk2"/><line x1="91.83" y1="264.0" x2="91.83" y2="262.4" class="tk"/><line x1="91.83" y1="21.5" x2="91.83" y2="23.1" class="tk2"/><line x1="104.92" y1="264.0" x2="104.92" y2="261.0" class="tk"/><line x1="104.92" y1="21.5" x2="104.92" y2="24.5" class="tk2"/><line x1="118.00" y1="264.0" x2="118.00" y2="262.4" class="tk"/><line x1="118.00" y1="21.5" x2="118.00" y2="23.1" class="tk2"/><line x1="131.08" y1="264.0" x2="131.08" y2="262.4" class="tk"/><line x1="131.08" y1="21.5" x2="131.08" y2="23.1" class="tk2"/><line x1="144.17" y1="264.0" x2="144.17" y2="262.4" class="tk"/><line x1="144.17" y1="21.5" x2="144.17" y2="23.1" class="tk2"/><line x1="157.25" y1="264.0" x2="157.25" y2="262.4" class="tk"/><line x1="157.25" y1="21.5" x2="157.25" y2="23.1" class="tk2"/><line x1="170.33" y1="264.0" x2="170.33" y2="261.0" class="tk"/><line x1="170.33" y1="21.5" x2="170.33" y2="24.5" class="tk2"/><line x1="183.42" y1="264.0" x2="183.42" y2="262.4" class="tk"/><line x1="183.42" y1="21.5" x2="183.42" y2="23.1" class="tk2"/><line x1="196.50" y1="264.0" x2="196.50" y2="262.4" class="tk"/><line x1="196.50" y1="21.5" x2="196.50" y2="23.1" class="tk2"/><line x1="209.58" y1="264.0" x2="209.58" y2="262.4" class="tk"/><line x1="209.58" y1="21.5" x2="209.58" y2="23.1" class="tk2"/><line x1="222.67" y1="264.0" x2="222.67" y2="262.4" class="tk"/><line x1="222.67" y1="21.5" x2="222.67" y2="23.1" class="tk2"/><line x1="235.75" y1="264.0" x2="235.75" y2="261.0" class="tk"/><line x1="235.75" y1="21.5" x2="235.75" y2="24.5" class="tk2"/><line x1="248.83" y1="264.0" x2="248.83" y2="262.4" class="tk"/><line x1="248.83" y1="21.5" x2="248.83" y2="23.1" class="tk2"/><line x1="261.92" y1="264.0" x2="261.92" y2="262.4" class="tk"/><line x1="261.92" y1="21.5" x2="261.92" y2="23.1" class="tk2"/><line x1="275.00" y1="264.0" x2="275.00" y2="262.4" class="tk"/><line x1="275.00" y1="21.5" x2="275.00" y2="23.1" class="tk2"/><line x1="288.08" y1="264.0" x2="288.08" y2="262.4" class="tk"/><line x1="288.08" y1="21.5" x2="288.08" y2="23.1" class="tk2"/><line x1="301.17" y1="264.0" x2="301.17" y2="261.0" class="tk"/><line x1="301.17" y1="21.5" x2="301.17" y2="24.5" class="tk2"/><line x1="314.25" y1="264.0" x2="314.25" y2="262.4" class="tk"/><line x1="314.25" y1="21.5" x2="314.25" y2="23.1" class="tk2"/><line x1="327.33" y1="264.0" x2="327.33" y2="262.4" class="tk"/><line x1="327.33" y1="21.5" x2="327.33" y2="23.1" class="tk2"/><line x1="340.42" y1="264.0" x2="340.42" y2="262.4" class="tk"/><line x1="340.42" y1="21.5" x2="340.42" y2="23.1" class="tk2"/><line x1="353.50" y1="264.0" x2="353.50" y2="262.4" class="tk"/><line x1="353.50" y1="21.5" x2="353.50" y2="23.1" class="tk2"/><line x1="366.58" y1="264.0" x2="366.58" y2="261.0" class="tk"/><line x1="366.58" y1="21.5" x2="366.58" y2="24.5" class="tk2"/><line x1="379.67" y1="264.0" x2="379.67" y2="262.4" class="tk"/><line x1="379.67" y1="21.5" x2="379.67" y2="23.1" class="tk2"/><line x1="392.75" y1="264.0" x2="392.75" y2="262.4" class="tk"/><line x1="392.75" y1="21.5" x2="392.75" y2="23.1" class="tk2"/><line x1="405.83" y1="264.0" x2="405.83" y2="262.4" class="tk"/><line x1="405.83" y1="21.5" x2="405.83" y2="23.1" class="tk2"/><line x1="418.92" y1="264.0" x2="418.92" y2="262.4" class="tk"/><line x1="418.92" y1="21.5" x2="418.92" y2="23.1" class="tk2"/><line x1="432.00" y1="264.0" x2="432.00" y2="261.0" class="tk"/><line x1="432.00" y1="21.5" x2="432.00" y2="24.5" class="tk2"/><line x1="39.5" y1="264.00" x2="42.7" y2="264.00" class="tk"/><line x1="432.0" y1="264.00" x2="429.0" y2="264.00" class="tk2"/><line x1="39.5" y1="254.30" x2="41.5" y2="254.30" class="tk"/><line x1="432.0" y1="254.30" x2="430.4" y2="254.30" class="tk2"/><line x1="39.5" y1="244.60" x2="41.5" y2="244.60" class="tk"/><line x1="432.0" y1="244.60" x2="430.4" y2="244.60" class="tk2"/><line x1="39.5" y1="234.90" x2="41.5" y2="234.90" class="tk"/><line x1="432.0" y1="234.90" x2="430.4" y2="234.90" class="tk2"/><line x1="39.5" y1="225.20" x2="41.5" y2="225.20" class="tk"/><line x1="432.0" y1="225.20" x2="430.4" y2="225.20" class="tk2"/><line x1="39.5" y1="215.50" x2="42.7" y2="215.50" class="tk"/><line x1="432.0" y1="215.50" x2="429.0" y2="215.50" class="tk2"/><line x1="39.5" y1="205.80" x2="41.5" y2="205.80" class="tk"/><line x1="432.0" y1="205.80" x2="430.4" y2="205.80" class="tk2"/><line x1="39.5" y1="196.10" x2="41.5" y2="196.10" class="tk"/><line x1="432.0" y1="196.10" x2="430.4" y2="196.10" class="tk2"/><line x1="39.5" y1="186.40" x2="41.5" y2="186.40" class="tk"/><line x1="432.0" y1="186.40" x2="430.4" y2="186.40" class="tk2"/><line x1="39.5" y1="176.70" x2="41.5" y2="176.70" class="tk"/><line x1="432.0" y1="176.70" x2="430.4" y2="176.70" class="tk2"/><line x1="39.5" y1="167.00" x2="42.7" y2="167.00" class="tk"/><line x1="432.0" y1="167.00" x2="429.0" y2="167.00" class="tk2"/><line x1="39.5" y1="157.30" x2="41.5" y2="157.30" class="tk"/><line x1="432.0" y1="157.30" x2="430.4" y2="157.30" class="tk2"/><line x1="39.5" y1="147.60" x2="41.5" y2="147.60" class="tk"/><line x1="432.0" y1="147.60" x2="430.4" y2="147.60" class="tk2"/><line x1="39.5" y1="137.90" x2="41.5" y2="137.90" class="tk"/><line x1="432.0" y1="137.90" x2="430.4" y2="137.90" class="tk2"/><line x1="39.5" y1="128.20" x2="41.5" y2="128.20" class="tk"/><line x1="432.0" y1="128.20" x2="430.4" y2="128.20" class="tk2"/><line x1="39.5" y1="118.50" x2="42.7" y2="118.50" class="tk"/><line x1="432.0" y1="118.50" x2="429.0" y2="118.50" class="tk2"/><line x1="39.5" y1="108.80" x2="41.5" y2="108.80" class="tk"/><line x1="432.0" y1="108.80" x2="430.4" y2="108.80" class="tk2"/><line x1="39.5" y1="99.10" x2="41.5" y2="99.10" class="tk"/><line x1="432.0" y1="99.10" x2="430.4" y2="99.10" class="tk2"/><line x1="39.5" y1="89.40" x2="41.5" y2="89.40" class="tk"/><line x1="432.0" y1="89.40" x2="430.4" y2="89.40" class="tk2"/><line x1="39.5" y1="79.70" x2="41.5" y2="79.70" class="tk"/><line x1="432.0" y1="79.70" x2="430.4" y2="79.70" class="tk2"/><line x1="39.5" y1="70.00" x2="42.7" y2="70.00" class="tk"/><line x1="432.0" y1="70.00" x2="429.0" y2="70.00" class="tk2"/><line x1="39.5" y1="60.30" x2="41.5" y2="60.30" class="tk"/><line x1="432.0" y1="60.30" x2="430.4" y2="60.30" class="tk2"/><line x1="39.5" y1="50.60" x2="41.5" y2="50.60" class="tk"/><line x1="432.0" y1="50.60" x2="430.4" y2="50.60" class="tk2"/><line x1="39.5" y1="40.90" x2="41.5" y2="40.90" class="tk"/><line x1="432.0" y1="40.90" x2="430.4" y2="40.90" class="tk2"/><line x1="39.5" y1="31.20" x2="41.5" y2="31.20" class="tk"/><line x1="432.0" y1="31.20" x2="430.4" y2="31.20" class="tk2"/><line x1="39.5" y1="21.50" x2="42.7" y2="21.50" class="tk"/><line x1="432.0" y1="21.50" x2="429.0" y2="21.50" class="tk2"/>
<path class="ax" d="M39.5 21.5 H432.0 V264.0 H39.5 Z"/>
<text x="39.50" y="275" text-anchor="middle">2</text><text x="104.92" y="275" text-anchor="middle">3</text><text x="170.33" y="275" text-anchor="middle">4</text><text x="235.75" y="275" text-anchor="middle">5</text><text x="301.17" y="275" text-anchor="middle">6</text><text x="366.58" y="275" text-anchor="middle">7</text><text x="432.00" y="275" text-anchor="middle">8</text>
<text x="37.3" y="266.70" text-anchor="end">0.00</text><text x="37.3" y="218.20" text-anchor="end">0.05</text><text x="37.3" y="169.70" text-anchor="end">0.10</text><text x="37.3" y="121.20" text-anchor="end">0.15</text><text x="37.3" y="72.70" text-anchor="end">0.20</text><text x="37.3" y="24.20" text-anchor="end">0.25</text>
<text x="235.5" y="290.5" text-anchor="middle">r</text>
<text class="i" transform="translate(9,144.8) rotate(-90)" x="0" y="0" style="font-size:11px">r</text>
<circle cx="2.3" cy="142.7" r="0.65" fill="#000"/>
<g><text class="t" x="189.1" y="10.7">B</text><text class="t" x="213.8" y="10.7">0</text><text class="t i" x="239.9" y="10.7">θ</text><text class="t" x="261.9" y="10.7">90</text><text class="i" x="276.9" y="6.3" style="font-size:9.5px">o</text></g>
<path d="M201.9 5.8h8M201.9 8.7h8M250.2 5.8h7.9M250.2 8.7h7.9" stroke="#000" stroke-width="0.9" fill="none"/>
<path class="c" stroke="#ff8000" stroke-dasharray="3.9 1.5" d="M335.8 137.6 H362.3"/>
<path class="c" stroke="#ff0000" stroke-dasharray="4.8 3.2" d="M335.8 157.1 H362.3"/>
<path class="c" stroke="#0000ff" stroke-dasharray="1.8 0.87" d="M335.8 176.8 H362.3"/>
<path class="c" stroke="#000" stroke-dasharray="1.8 0.87" d="M335.8 196.0 H362.3"/>
<text class="i" x="368.8" y="141.29999999999998">a</text><text x="388.6" y="141.29999999999998">0.5</text><path d="M377.6 136.35h7.7M377.6 138.79999999999998h7.7" stroke="#000" stroke-width="0.7" fill="none"/>
<text class="i" x="368.8" y="160.79999999999998">a</text><text x="388.6" y="160.79999999999998">0.7</text><path d="M377.6 155.85h7.7M377.6 158.29999999999998h7.7" stroke="#000" stroke-width="0.7" fill="none"/>
<text class="i" x="368.8" y="180.5">a</text><text x="388.6" y="180.5">0.9</text><path d="M377.6 175.55h7.7M377.6 178.0h7.7" stroke="#000" stroke-width="0.7" fill="none"/>
<text class="i" x="368.8" y="199.7">a</text><text x="388.6" y="199.7">0.99</text><path d="M377.6 194.75h7.7M377.6 197.2h7.7" stroke="#000" stroke-width="0.7" fill="none"/>
</svg></body></html>
